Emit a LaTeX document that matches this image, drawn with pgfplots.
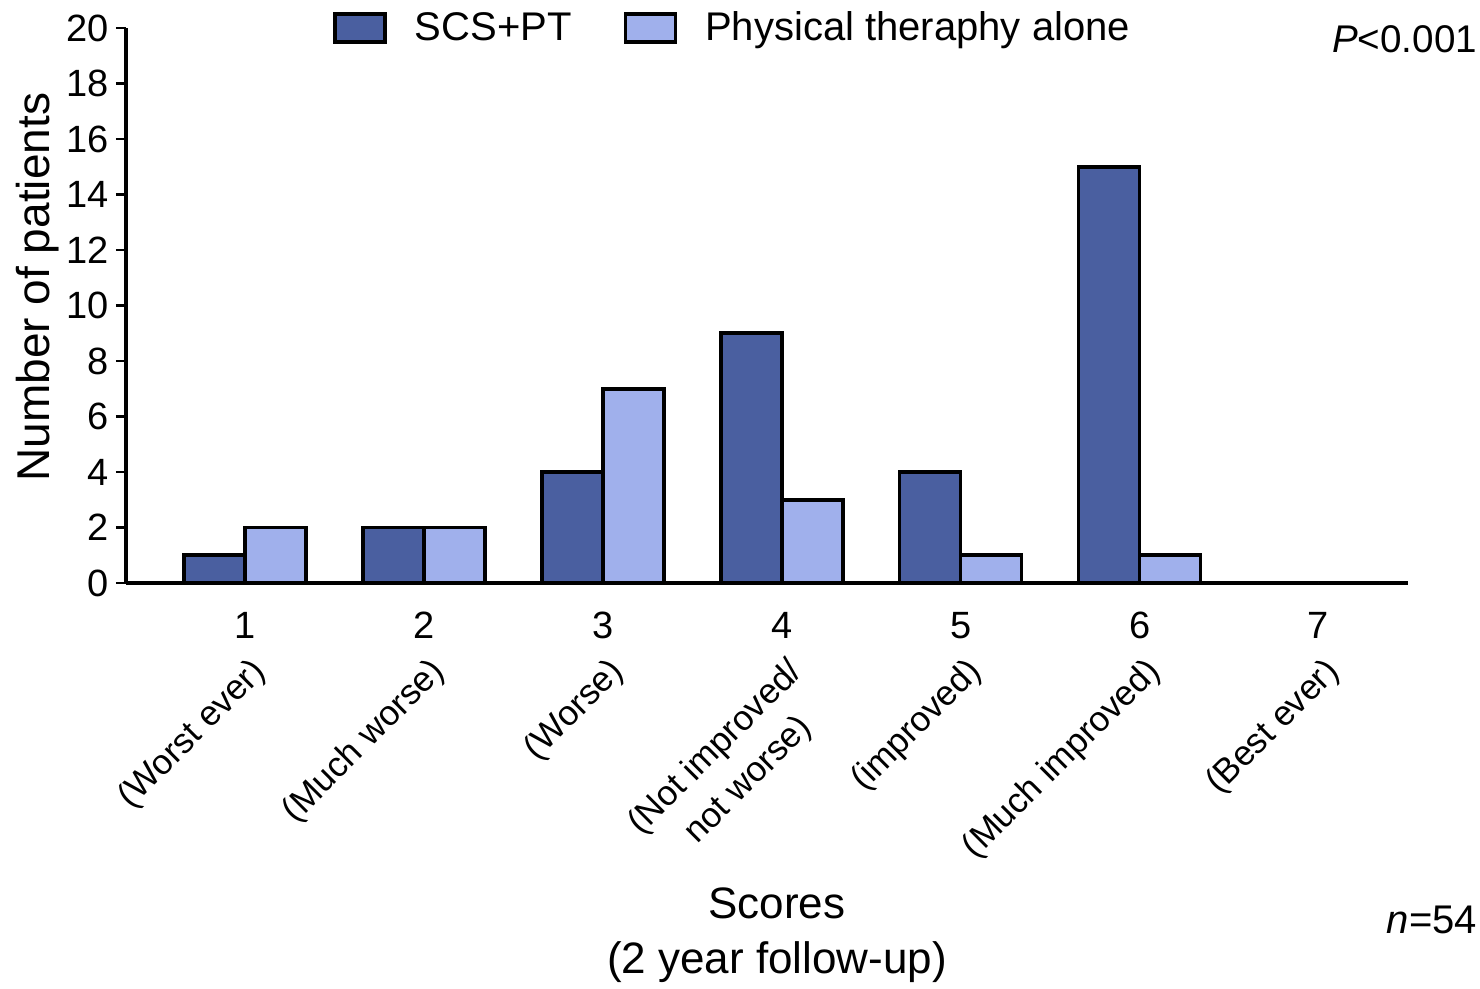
\documentclass[border=0pt]{standalone}
\usepackage{pgfplots}
\pgfplotsset{compat=1.18}
\usepackage{fontspec}
\setmainfont{Liberation Sans}
\definecolor{scs}{HTML}{4A5FA0}
\definecolor{ptc}{HTML}{A0B0EC}
\pgfplotsset{boxlegend/.style={legend image code/.code={\draw[##1, line width=1.8pt, draw=black] (0pt,-7pt) rectangle (25pt,7pt); \path (37pt,0pt);}}}
\begin{document}
\begin{tikzpicture}
\path[use as bounding box] (-63pt,-203pt) rectangle (677pt,291.5pt);
\begin{axis}[
 at={(0,0)}, anchor=south west,
 scale only axis, width=641pt, height=277.5pt,
 xmin=0.335, xmax=7.5, ymin=0, ymax=20,
 axis lines=left, axis line style={line width=1.6pt, -},
 ybar=0pt, bar width=30.5pt,
 xtick={1,...,7}, ytick={0,2,...,20},
 x tick style={draw=none}, y tick style={line width=1.3pt, black},
 tick align=outside, major tick length=5pt,
 ticklabel style={font=\fontsize{19}{19}\selectfont},
 /pgf/number format/assume math mode=true,
 xticklabel style={yshift=-6pt},
 ylabel={Number of patients},
 ylabel style={font=\fontsize{23}{23}\selectfont, at={(axis description cs:-0.0686,0.533)}, anchor=center},
 clip=false,
 legend columns=-1,
 legend style={draw=none, fill=none, at={(axis description cs:0.474,1.0)}, anchor=center, font=\fontsize{20}{20}\selectfont, /tikz/every even column/.append style={column sep=24pt}},
]
\addplot[fill=scs, draw=black, line width=1.8pt, boxlegend] coordinates {(1,1)(2,2)(3,4)(4,9)(5,4)(6,15)(7,0)};
\addplot[fill=ptc, draw=black, line width=1.8pt, boxlegend] coordinates {(1,2)(2,2)(3,7)(4,3)(5,1)(6,1)(7,0)};
\legend{SCS+PT, Physical theraphy alone}
\begin{scope}[every node/.style={rotate=45, anchor=north east, align=center, inner sep=0pt, font=\fontsize{17.5}{23}\selectfont}]
\node at ([xshift=2pt,yshift=-36pt]axis cs:1,0) {(Worst ever)};
\node at ([xshift=2pt,yshift=-36pt]axis cs:2,0) {(Much worse)};
\node at ([xshift=2pt,yshift=-36pt]axis cs:3,0) {(Worse)};
\node at ([xshift=2pt,yshift=-36pt]axis cs:4,0) {(Not improved/\\not worse)};
\node at ([xshift=2pt,yshift=-36pt]axis cs:5,0) {(improved)};
\node at ([xshift=2pt,yshift=-36pt]axis cs:6,0) {(Much improved)};
\node at ([xshift=2pt,yshift=-36pt]axis cs:7,0) {(Best ever)};
\end{scope}
\end{axis}
\node[anchor=east, font=\fontsize{19.3}{20}\selectfont] at (679pt,272pt) {\textit{P}<0.001};
\node[anchor=east, font=\fontsize{20}{20}\selectfont] at (679pt,-168.5pt) {\textit{n}=54};
\node[align=center, font=\fontsize{22}{27.5}\selectfont] at (325.5pt,-176pt) {Scores\\(2 year follow-up)};
\end{tikzpicture}
\end{document}
